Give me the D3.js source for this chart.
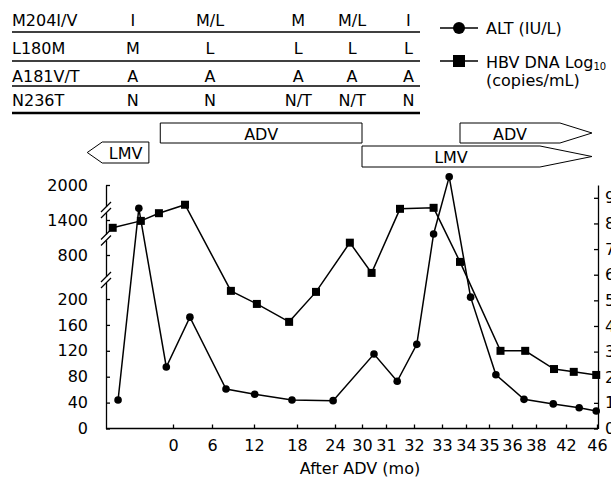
<!DOCTYPE html>
<html>
<head>
<meta charset="utf-8">
<script src="https://cdn.jsdelivr.net/npm/d3@7"></script>
<style>
  body { margin: 0; background: #fff; }
  svg { display: block; }
  text { font-family: "DejaVu Sans", Verdana, sans-serif; fill: #000; }
</style>
</head>
<body>
<svg id="chart"></svg>
<script>
// ---- data ----
// months after ADV start (negative = before ADV)
var xTickMonths = [0, 6, 12, 18, 24, 30, 31, 32, 33, 34, 35, 36, 38, 42, 46];

var altMonths = [-8.2, -5.1, -1, 2.6, 8, 12.1, 17.3, 23.7, 30.5, 31.4, 32.1, 32.7, 33.3, 34.2, 35.3, 37, 40.3, 43.7, 45.9];
var altValues = [44, 1600, 95, 172, 61, 53, 44, 43, 115, 73, 130, 1160, 2140, 225, 83, 45, 38, 32, 27];

var hbvMonths = [-9, -4.8, -2.1, 1.85, 8.7, 12.4, 16.9, 21, 27.3, 30.4, 31.5, 32.7, 33.75, 35.5, 37.1, 40.4, 43, 45.9];
var hbvValues = [7.83, 8.1, 8.4, 8.73, 5.37, 4.86, 4.16, 5.33, 7.25, 6.07, 8.57, 8.61, 6.5, 3.03, 3.03, 2.32, 2.21, 2.09];

var altTicks = [0, 40, 80, 120, 160, 200, 800, 1400, 2000];
var altBreaks = [460, 1100, 1570];
var hbvTicks = [0, 1, 2, 3, 4, 5, 6, 7, 8, 9];

// mutation table: sampling months and residues found
var mutations = ["M204I/V", "L180M", "A181V/T", "N236T"];
var sampleMonths = [-6, 5.7, 18.2, 27.8, 31.8];
var m204 = ["I", "M/L", "M", "M/L", "I"];
var l180 = ["M", "L", "L", "L", "L"];
var a181 = ["A", "A", "A", "A", "A"];
var n236 = ["N", "N", "N/T", "N/T", "N"];

// treatment periods
var drugs = ["LMV", "ADV", "ADV", "LMV"];
var drugStart = [-12.8, -1.9, 33.75, 30];
var drugEnd = [-3.6, 30, 45.35, 45.35];

// ---- layout ----
var W = 611, H = 479;
var x0 = 106, yBottom = 428.5, yTop = 185;
var xTickPx = [173, 212, 254, 297, 335, 362, 386, 414, 442, 466, 489, 512, 536, 566, 597];
var xRight = 598;

var svg = d3.select("#chart").attr("width", W).attr("height", H);

var x = d3.scaleLinear()
    .domain([-10].concat(xTickMonths))
    .range([x0].concat(xTickPx));

var yAlt = d3.scaleLinear()
    .domain([0, 200, 800, 1400, 2000])
    .range([yBottom, 299, 255, 220, yTop]);

var yHbv = d3.scaleLinear()
    .domain([0, 9.5])
    .range([yBottom, yTop]);

// ---- table ----
var rowsY = [20, 48, 76, 100];
var lineY = [32, 61, 86, 113];
var table = [m204, l180, a181, n236];

svg.selectAll(".rowline")
    .data(lineY)
    .enter().append("line")
    .attr("x1", 12).attr("x2", 420)
    .attr("y1", function(d) { return d; })
    .attr("y2", function(d) { return d; })
    .attr("stroke", "#000")
    .attr("stroke-width", function(d, i) { return i == 3 ? 2.5 : 1.6; });

mutations.forEach(function(m, r) {
    svg.append("text")
        .attr("x", 12).attr("y", rowsY[r])
        .attr("dy", "0.35em")
        .style("font-size", "16px")
        .text(m);
    svg.selectAll(null)
        .data(table[r])
        .enter().append("text")
        .attr("x", function(d, i) { return x(sampleMonths[i]); })
        .attr("y", rowsY[r])
        .attr("dy", "0.35em")
        .attr("text-anchor", "middle")
        .style("font-size", "16px")
        .text(function(d) { return d; });
});

// ---- legend ----
var lg = svg.append("g");
lg.append("line").attr("x1", 440).attr("x2", 478).attr("y1", 28).attr("y2", 28).attr("stroke", "#000").attr("stroke-width", 1.5);
lg.append("circle").attr("cx", 459).attr("cy", 28).attr("r", 6);
lg.append("text").attr("x", 486).attr("y", 28).attr("dy", "0.35em").style("font-size", "16px").text("ALT (IU/L)");
lg.append("line").attr("x1", 440).attr("x2", 478).attr("y1", 61).attr("y2", 61).attr("stroke", "#000").attr("stroke-width", 1.5);
lg.append("rect").attr("x", 453).attr("y", 55).attr("width", 12).attr("height", 12);
var t2 = lg.append("text").attr("x", 486).attr("y", 62).attr("dy", "0.35em").style("font-size", "16px");
t2.append("tspan").text("HBV DNA Log");
t2.append("tspan").attr("dy", "0.25em").style("font-size", "10px").text("10");
lg.append("text").attr("x", 486).attr("y", 80).attr("dy", "0.35em").style("font-size", "16px").text("(copies/mL)");

// ---- treatment arrows ----
var boxTop = [142, 123, 123, 146];
var boxH = [21, 20, 20, 21];
var heads = [-15, 0, 32, 52];

drugs.forEach(function(dname, i) {
    var a = x(drugStart[i]), b = x(drugEnd[i]);
    var t = boxTop[i], h = boxH[i], m = t + h / 2, hd = heads[i];
    var pts;
    if (hd < 0) {
        pts = [[a, m], [a - hd, t], [b, t], [b, t + h], [a - hd, t + h]];
    } else if (hd > 0) {
        pts = [[a, t], [b - hd, t], [b, m], [b - hd, t + h], [a, t + h]];
    } else {
        pts = [[a, t], [b, t], [b, t + h], [a, t + h]];
    }
    svg.append("path")
        .attr("d", d3.line()(pts) + "Z")
        .attr("fill", "#fff")
        .attr("stroke", "#000")
        .attr("stroke-width", 1);
    var cx = hd < 0 ? (a - hd + b) / 2 : hd > 0 ? (a + b - hd) / 2 : (a + b) / 2;
    svg.append("text")
        .attr("x", cx).attr("y", m + 1)
        .attr("dy", "0.35em")
        .attr("text-anchor", "middle")
        .style("font-size", "16px")
        .text(dname);
});

// ---- axes ----
var gxAxis = svg.append("g")
    .attr("transform", "translate(0," + yBottom + ")")
    .call(d3.axisBottom(x).tickValues(xTickMonths).tickSize(-4).tickSizeOuter(0).tickPadding(11));
gxAxis.select(".domain").attr("d", "M" + x0 + ",0H" + xRight);

var gyL = svg.append("g")
    .attr("transform", "translate(" + x0 + ",0)")
    .call(d3.axisLeft(yAlt).tickValues(altTicks).tickSize(-4).tickSizeOuter(0).tickPadding(18).tickFormat(d3.format("d")));

var gyR = svg.append("g")
    .attr("transform", "translate(" + xRight + ",0)")
    .call(d3.axisRight(yHbv).tickValues(hbvTicks).tickSize(-4).tickSizeOuter(0).tickPadding(7));

[gxAxis, gyL, gyR].forEach(function(g) {
    g.selectAll("text").style("font-size", "16px").attr("fill", "#000");
    g.selectAll("line, path").attr("stroke", "#000").attr("stroke-width", 1.3);
});

// axis breaks
altBreaks.forEach(function(v) {
    var yb = yAlt(v);
    svg.append("rect").attr("x", x0 - 2).attr("y", yb - 3).attr("width", 4).attr("height", 6).attr("fill", "#fff");
    [-3, 3].forEach(function(o) {
        svg.append("line")
            .attr("x1", x0 - 5).attr("y1", yb + o + 5)
            .attr("x2", x0 + 5).attr("y2", yb + o - 5)
            .attr("stroke", "#000").attr("stroke-width", 1.3);
    });
});

svg.append("text")
    .attr("x", 360).attr("y", 468)
    .attr("dy", "0.35em")
    .attr("text-anchor", "middle")
    .style("font-size", "16px")
    .text("After ADV (mo)");

// ---- series ----
var altData = altMonths.map(function(m, i) { return [m, altValues[i]]; });
var hbvData = hbvMonths.map(function(m, i) { return [m, hbvValues[i]]; });

svg.append("path")
    .datum(altData)
    .attr("fill", "none").attr("stroke", "#000").attr("stroke-width", 1.5)
    .attr("d", d3.line().x(function(d) { return x(d[0]); }).y(function(d) { return yAlt(d[1]); }));

svg.append("path")
    .datum(hbvData)
    .attr("fill", "none").attr("stroke", "#000").attr("stroke-width", 1.5)
    .attr("d", d3.line().x(function(d) { return x(d[0]); }).y(function(d) { return yHbv(d[1]); }));

svg.selectAll(".alt")
    .data(altData)
    .enter().append("circle")
    .attr("cx", function(d) { return x(d[0]); })
    .attr("cy", function(d) { return yAlt(d[1]); })
    .attr("r", 3.8);

svg.selectAll(".hbv")
    .data(hbvData)
    .enter().append("rect")
    .attr("x", function(d) { return x(d[0]) - 4; })
    .attr("y", function(d) { return yHbv(d[1]) - 4; })
    .attr("width", 8).attr("height", 8);
</script>
</body>
</html>
